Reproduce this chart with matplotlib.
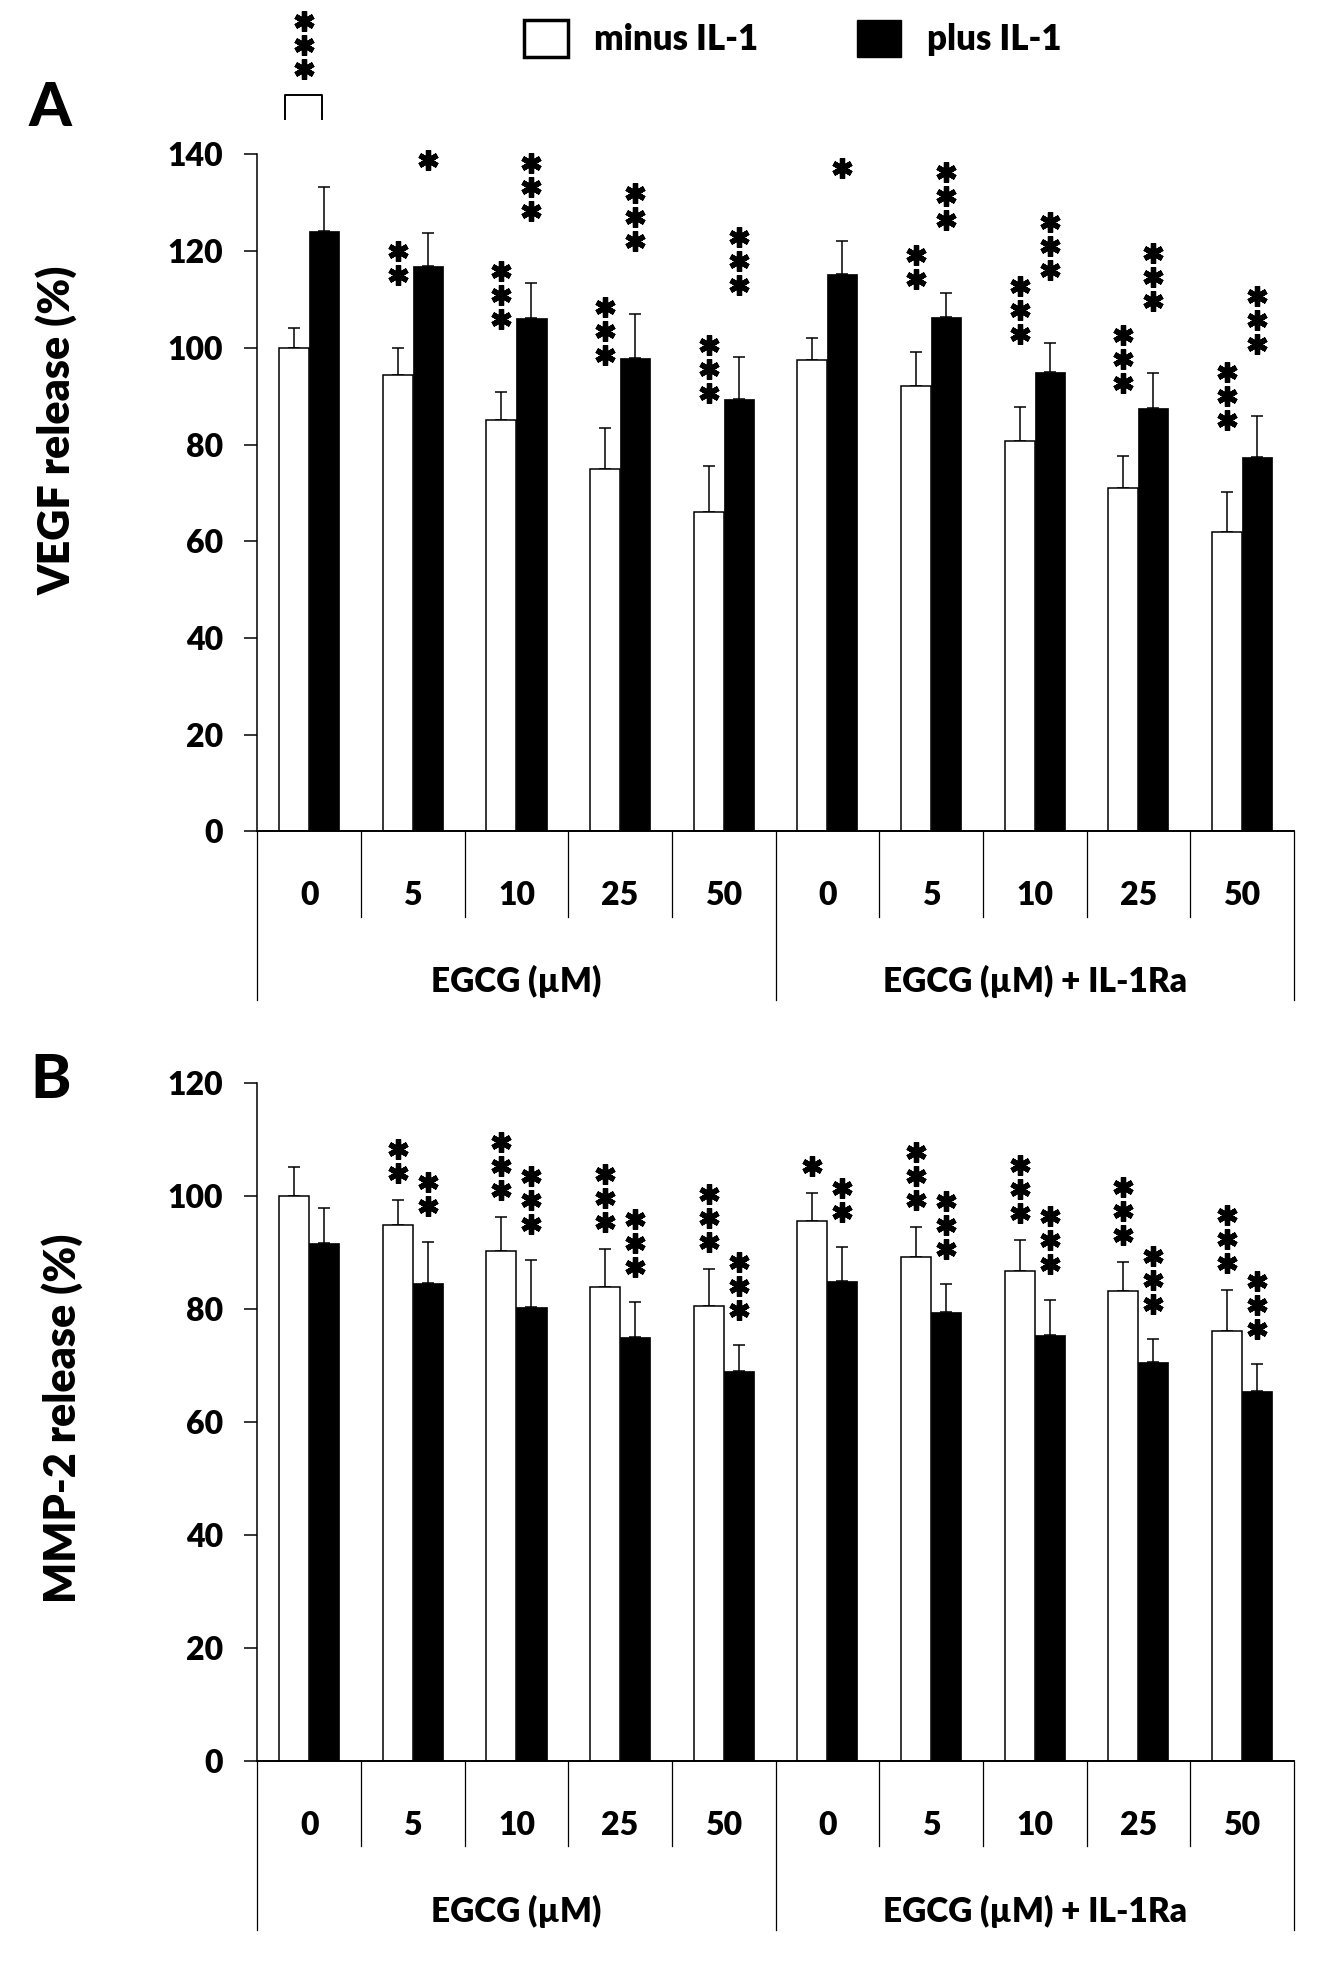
import matplotlib
matplotlib.use('Agg')
import matplotlib.pyplot as plt
import matplotlib.transforms as mtransforms
from matplotlib.patches import Patch
import numpy as np

plt.rcParams['font.family'] = ['Lato', 'DejaVu Sans']
plt.rcParams['font.weight'] = 'heavy'

# ---- data ----
doses = ['0', '5', '10', '25', '50', '0', '5', '10', '25', '50']
groups = ['EGCG (µM)', 'EGCG (µM) + IL-1Ra']

vegf_minus = [100, 94.4, 85, 74.9, 66, 97.4, 92, 80.8, 71, 61.9]
vegf_minus_sd = [4.1, 5.6, 5.8, 8.5, 9.5, 4.7, 7.1, 6.9, 6.7, 8.2]
vegf_plus = [124.1, 116.9, 106.2, 97.8, 89.5, 115.2, 106.3, 95, 87.5, 77.4]
vegf_plus_sd = [9.1, 6.9, 7.1, 9.2, 8.5, 6.9, 5.0, 6.0, 7.2, 8.4]

mmp_minus = [100, 94.9, 90.2, 83.8, 80.5, 95.6, 89.1, 86.7, 83.1, 76]
mmp_minus_sd = [5.1, 4.3, 6.1, 6.8, 6.6, 4.9, 5.4, 5.4, 5.2, 7.3]
mmp_plus = [91.7, 84.5, 80.3, 75, 69, 85, 79.4, 75.3, 70.6, 65.4]
mmp_plus_sd = [6.1, 7.4, 8.4, 6.2, 4.6, 5.9, 4.9, 6.3, 4.0, 4.8]

# number of asterisks over each bar
vegf_minus_stars = [0, 2, 3, 3, 3, 0, 2, 3, 3, 3]
vegf_plus_stars = [0, 1, 3, 3, 3, 1, 3, 3, 3, 3]
mmp_minus_stars = [0, 2, 3, 3, 3, 1, 3, 3, 3, 3]
mmp_plus_stars = [0, 2, 3, 3, 3, 2, 3, 3, 3, 3]
il1_stars = 3   # minus vs plus IL-1 at 0 EGCG

W = 0.29
fig = plt.figure(figsize=(13.23, 19.61), dpi=100)


def stars(ax, x, y, n):
    # stack of six-armed asterisks, bottom edge at y
    for k in range(n):
        tr = mtransforms.offset_copy(ax.transData, fig=fig, y=10 + 24 * k, units='dots')
        ax.plot([x], [y], marker=(6, 2, 0), ms=14.5, mew=3.8, color='black',
                transform=tr, clip_on=False, zorder=5)


def panel(ax, minus, minus_sd, plus, plus_sd, s_minus, s_plus, ymax, gap_w, gap_b):
    x = np.arange(len(doses))
    ax.bar(x - W / 2, minus, W, color='white', edgecolor='black', linewidth=1.1, zorder=2)
    ax.bar(x + W / 2, plus, W, color='black', edgecolor='black', linewidth=0.5, zorder=2)
    ax.errorbar(x - W / 2, minus, yerr=[np.zeros(len(x)), minus_sd], fmt='none',
                ecolor='black', elinewidth=1.1, capsize=4, capthick=1.1, zorder=1)
    ax.errorbar(x + W / 2, plus, yerr=[np.zeros(len(x)), plus_sd], fmt='none',
                ecolor='black', elinewidth=1.1, capsize=4, capthick=1.1, zorder=1)
    for i in range(len(x)):
        stars(ax, x[i] - W / 2, minus[i] + minus_sd[i] + gap_w, s_minus[i])
        stars(ax, x[i] + W / 2, plus[i] + plus_sd[i] + gap_b, s_plus[i])

    ax.set_xlim(-0.5, len(x) - 0.5)
    ax.set_ylim(0, ymax)
    ax.set_yticks(np.arange(0, ymax + 1, 20))
    ax.tick_params(axis='y', direction='out', length=9.5, width=1.1, pad=15, labelsize=23)
    ax.set_xticks([])
    for s in ['top', 'right']:
        ax.spines[s].set_visible(False)
    ax.spines['left'].set_linewidth(1.1)
    ax.spines['bottom'].set_linewidth(1.4)

    # category table below the axis
    tr = mtransforms.blended_transform_factory(ax.transData, ax.transAxes)
    for b in np.arange(-0.5, len(x), 1.0):
        long_line = b in (-0.5, 4.5, len(x) - 0.5)
        ax.plot([b, b], [0, -0.249 if long_line else -0.1256], color='black', lw=0.9,
                transform=tr, clip_on=False)
    for i, d in enumerate(doses):
        ax.text(x[i], -0.0945, d, transform=tr, ha='center', va='center', fontsize=23)
    ax.text(2, -0.2216, groups[0], transform=tr, ha='center', va='center', fontsize=24)
    ax.text(7, -0.2216, groups[1], transform=tr, ha='center', va='center', fontsize=24)


axA = fig.add_axes([0.1945, 0.576, 0.7835, 0.3453])
panel(axA, vegf_minus, vegf_minus_sd, vegf_plus, vegf_plus_sd,
      vegf_minus_stars, vegf_plus_stars, 140, 13, 13)
# bracket minus/plus IL-1 at 0 EGCG
axA.plot([-0.23, -0.23, 0.12, 0.12], [147.4, 152.3, 152.3, 147.4], color='black',
         lw=1.4, clip_on=False)
stars(axA, -0.045, 155.6, il1_stars)

axB = fig.add_axes([0.1945, 0.102, 0.7835, 0.3459])
panel(axB, mmp_minus, mmp_minus_sd, mmp_plus, mmp_plus_sd,
      mmp_minus_stars, mmp_plus_stars, 120, 3, 4.5)

fig.text(0.0431, 0.7807, 'VEGF release (%)', rotation=90, ha='center', va='center', fontsize=31)
fig.text(0.0469, 0.2769, 'MMP-2 release (%)', rotation=90, ha='center', va='center', fontsize=31)
fig.text(0.0378, 0.9449, 'A', ha='center', va='center', fontsize=44, fontweight='black')
fig.text(0.0385, 0.4493, 'B', ha='center', va='center', fontsize=44, fontweight='black')

handles = [Patch(facecolor='white', edgecolor='black', linewidth=2.5),
           Patch(facecolor='black', edgecolor='black')]
fig.legend(handles, ['minus IL-1', 'plus IL-1'], loc='center', bbox_to_anchor=(0.5994, 0.9804),
           ncol=2, frameon=False, fontsize=25, handlelength=1.27, handleheight=1.27,
           handletextpad=0.75, columnspacing=2.85)

fig.savefig('out.png', dpi=100)
